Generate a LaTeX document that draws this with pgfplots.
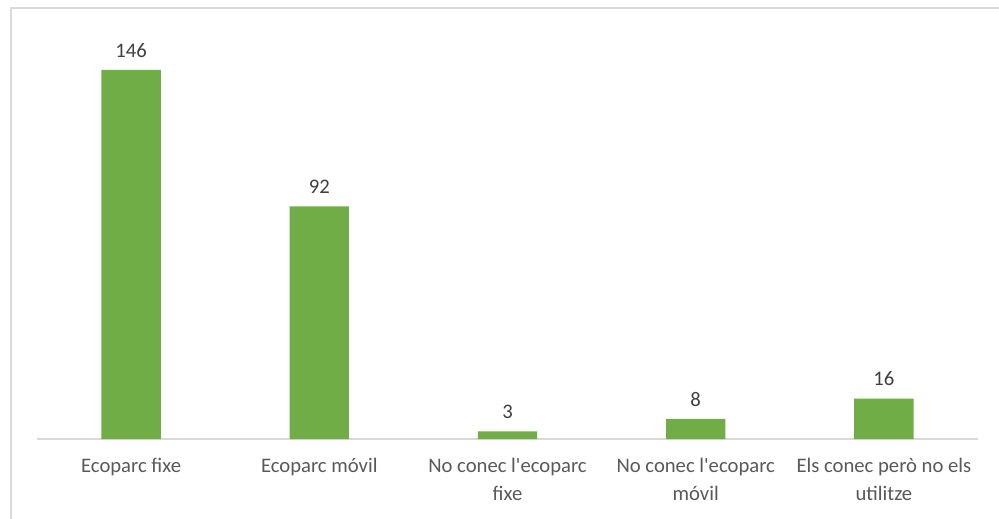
\documentclass[border=0pt]{standalone}
\usepackage{fontspec}
\setmainfont{Carlito}
\usepackage{pgfplots}
\pgfplotsset{compat=1.18}
\definecolor{barg}{HTML}{70AD47}
\definecolor{lineg}{HTML}{D9D9D9}
\definecolor{labg}{HTML}{595959}
\definecolor{valg}{HTML}{404040}
\begin{document}
\begin{tikzpicture}
% canvas of 999 x 518 px, 1px = 0.75pt
\path[use as bounding box] (0,0) rectangle (749.25pt,388.5pt);
\draw[lineg, line width=1.3pt] (8.25pt,-2pt) -- (8.25pt,382.5pt) -- (755pt,382.5pt);
\begin{axis}[
    at={(27.75pt,59.25pt)}, anchor=south west,
    scale only axis,
    width=705.75pt, height=276.75pt,
    xmin=-0.5, xmax=4.5,
    ymin=0, ymax=146,
    ybar, bar width=44.5pt,
    axis x line*=bottom,
    axis y line=none,
    x axis line style={lineg, line width=1.1pt, -},
    xtick=data,
    xticklabels={Ecoparc fixe, Ecoparc móvil, {No conec l\textquotesingle ecoparc\\fixe}, {No conec l\textquotesingle ecoparc\\móvil}, {Els conec però no els\\utilitze}},
    major tick length=0pt,
    ytick=\empty,
    xticklabel style={font=\fontsize{15.5}{21}\selectfont, text=labg, align=center, anchor=north, inner sep=0pt, yshift=-14pt},
    /pgf/number format/assume math mode=true,
    nodes near coords,
    every node near coord/.append style={font=\fontsize{15.5}{19}\selectfont, text=valg, anchor=base, inner sep=0pt, yshift=9.5pt},
    clip=false,
]
\addplot[fill=barg, draw=none] coordinates {(0,146) (1,92) (2,3) (3,8) (4,16)};
\end{axis}
\end{tikzpicture}
\end{document}
